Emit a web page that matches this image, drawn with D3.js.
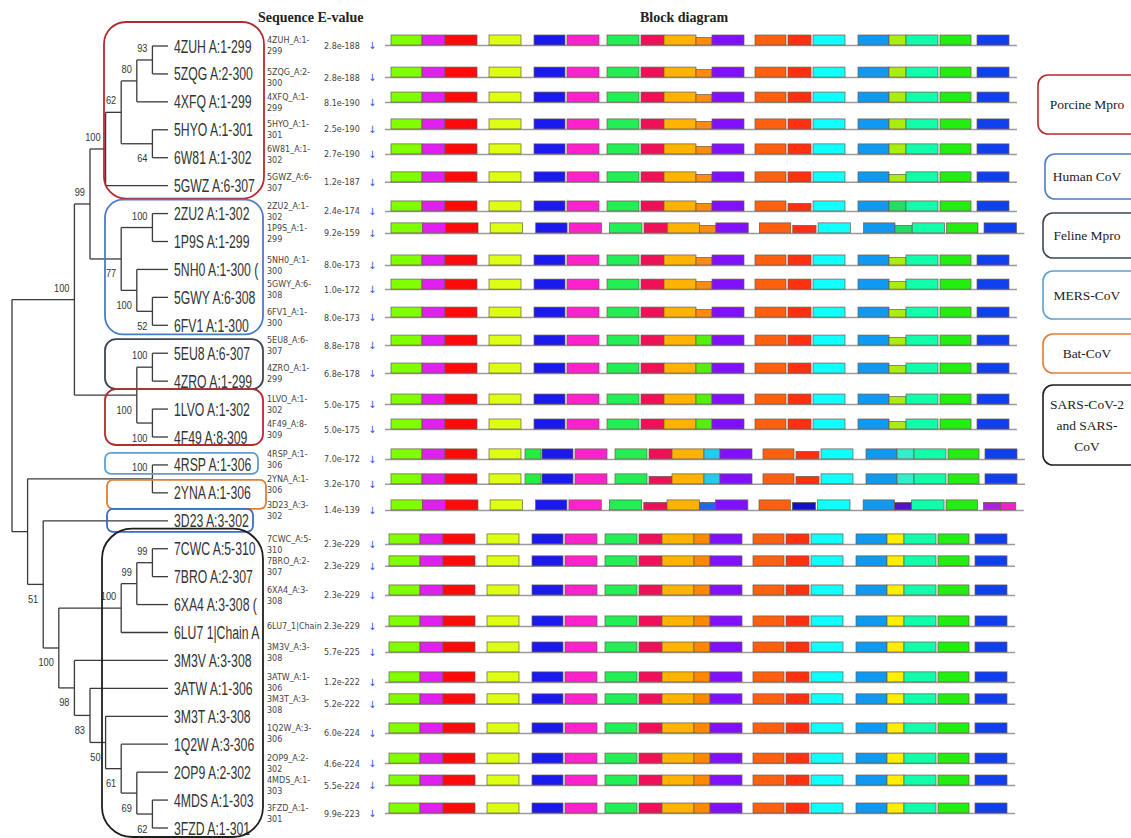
<!DOCTYPE html>
<html>
<head>
<meta charset="utf-8">
<script src="https://cdn.jsdelivr.net/npm/d3@7"></script>
<style>
  body { margin: 0; background: #fff; }
</style>
</head>
<body>
<script>
// --- tree topology (newick, leaves = PDB ids, "^"/"v" = bootstrap drawn above/below the node)
const porcineClade = "((((4ZUH,5ZQG)93^,4XFQ)80^,(5HYO,6W81)64v)62^,5GWZ)100^";
const humanClade = "((2ZU2,1P9S)100^,(5NH0,(5GWY,6FV1)52v)100v)77v";
const felineClade = "((5EU8,4ZRO)100^,(1LVO,4F49)100v)100v";
const sarsClade = "((((7CWC,7BRO)99^,6XA4)99^,6LU7)100^,(3M3V,(3ATW,(3M3T,(1Q2W,(2OP9,(4MDS,3FZD)62v)69v)61v)50v)83v)98v)100v";
const newick = "(((" + porcineClade + "," + humanClade + ")99^," + felineClade + ")100^,"
  + "((4RSP,2YNA)100^,(3D23," + sarsClade + ")51v))";

// --- one entry per sequence, top to bottom
const ids = ["4ZUH","5ZQG","4XFQ","5HYO","6W81","5GWZ","2ZU2","1P9S","5NH0","5GWY","6FV1",
  "5EU8","4ZRO","1LVO","4F49","4RSP","2YNA","3D23","7CWC","7BRO","6XA4","6LU7","3M3V",
  "3ATW","3M3T","1Q2W","2OP9","4MDS","3FZD"];
const treeLabels = ["4ZUH A:1-299","5ZQG A:2-300","4XFQ A:1-299","5HYO A:1-301","6W81 A:1-302",
  "5GWZ A:6-307","2ZU2 A:1-302","1P9S A:1-299","5NH0 A:1-300 (","5GWY A:6-308","6FV1 A:1-300",
  "5EU8 A:6-307","4ZRO A:1-299","1LVO A:1-302","4F49 A:8-309","4RSP A:1-306","2YNA A:1-306",
  "3D23 A:3-302","7CWC A:5-310","7BRO A:2-307","6XA4 A:3-308 (","6LU7 1|Chain A","3M3V A:3-308",
  "3ATW A:1-306","3M3T A:3-308","1Q2W A:3-306","2OP9 A:2-302","4MDS A:1-303","3FZD A:1-301"];
const seqTop = ["4ZUH_A:1-","5ZQG_A:2-","4XFQ_A:1-","5HYO_A:1-","6W81_A:1-","5GWZ_A:6-","2ZU2_A:1-",
  "1P9S_A:1-","5NH0_A:1-","5GWY_A:6-","6FV1_A:1-","5EU8_A:6-","4ZRO_A:1-","1LVO_A:1-","4F49_A:8-",
  "4RSP_A:1-","2YNA_A:1-","3D23_A:3-","7CWC_A:5-","7BRO_A:2-","6XA4_A:3-","6LU7_1|Chain","3M3V_A:3-",
  "3ATW_A:1-","3M3T_A:3-","1Q2W_A:3-","2OP9_A:2-","4MDS_A:1-","3FZD_A:1-"];
const seqBottom = ["299","300","299\n- - -","301","302","307","302","299","300","308","300","307","299",
  "302","309","306","306","302","310","307","308","","308\n- - -","306","308\n- - -","306","302","303","301"];
const evalues = ["2.8e-188","2.8e-188","8.1e-190","2.5e-190","2.7e-190","1.2e-187","2.4e-174","9.2e-159",
  "8.0e-173","1.0e-172","8.0e-173","8.8e-178","6.8e-178","5.0e-175","5.0e-175","7.0e-172","3.2e-170",
  "1.4e-139","2.3e-229","2.3e-229","2.3e-229","2.3e-229","5.7e-225","1.2e-222","5.2e-222","6.0e-224",
  "4.6e-224","5.5e-224","9.9e-223"];
// vertical slot of each block-diagram row (rows with extra text lines take more room)
const rowPos = [0,1.17,2.08,3.06,3.97,4.99,6.05,6.85,8.02,8.9,9.92,10.94,11.96,13.09,14,15.09,16,
  16.95,18.19,18.99,20.05,21.18,22.13,23.22,24.02,25.08,26.18,26.98,28];
const rowVariant = ["P","P","P","P","P","Q","H1","H2","Q","Q","Q","F","F","F","F","M","M2","D",
  "S","S","S","S","S","S","S","S","S","S","S"];

// --- conserved blocks (alignment position units)
const blockStart = [0,15.5,27,49,71.5,88,108,125,136.5,152.5,160.5,182,198.5,211,233.5,249,257.5,274.5,293];
const blockEnd   = [15.5,27,43,65,87,104,124,136.5,152.5,160.5,176.5,197.5,210,227,249,257.5,273.5,290,309];
const blockColor = ["#80ff00","#e020f0","#ff0a0a","#ddff11","#1a1aee","#ff22cc","#22ee55","#f0105a",
  "#ffb300","#ff8c10","#8010ff","#ff6010","#ff3010","#10ffff","#1099f0","#aaee11","#11ffaa","#22ee11","#1040ee"];
const variants = {
  P:  { short: [9] },
  Q:  { short: [9, 15] },
  H1: { short: [9, 12], color: { 15: "#22dd66" } },
  H2: { stretch: 1.012, short: [9, 12, 15], color: { 15: "#22dd66" } },
  F:  { short: [15], color: { 9: "#55ee11" } },
  M:  { shiftFrom: 4, shiftBy: 4, short: [12], color: { 9: "#22ccee", 15: "#33eecc" }, extra: [[67, 75, "#22ee44", 0]] },
  M2: { shiftFrom: 4, shiftBy: 4, short: [7, 12], color: { 9: "#22ccee", 15: "#33eecc" }, extra: [[67, 75, "#22ee44", 0]] },
  D:  { stretch: 1.011, short: [7, 9, 12, 15], color: { 9: "#2266ee", 12: "#1111cc", 15: "#5511cc" },
        drop: [18], extra: [[293, 301.5, "#aa22dd", 1], [301.5, 309, "#ee22cc", 1]] },
  S:  { shift: -1, color: { 9: "#ff8800", 15: "#ffee00" } }
};

// --- clade boxes & legend
const groupNames = ["Porcine Mpro", "Human CoV", "Feline Mpro", "MERS-CoV", "Bat-CoV", "SARS-CoV-2\nand SARS-\nCoV"];
const groupColors = ["#b52a2e", "#4d7cc6", "#3d4757", "#5b9fd6", "#e07d36", "#1e1e1e"];
const cladeBoxes = [
  { g: 0, from: "4ZUH", to: "5GWZ", x0: 104, x1: 264, top: 24, bot: 13, r: 22 },
  { g: 1, from: "2ZU2", to: "6FV1", x0: 105, x1: 263, top: 14, bot: 9, r: 18 },
  { g: 2, from: "5EU8", to: "4ZRO", x0: 105, x1: 263, top: 14, bot: 8, r: 11 },
  { g: 0, from: "1LVO", to: "4F49", x0: 105, x1: 263, top: 20, bot: 8, r: 11 },
  { g: 3, from: "4RSP", to: "4RSP", x0: 105, x1: 258, top: 12, bot: 9, r: 6 },
  { g: 4, from: "2YNA", to: "2YNA", x0: 107, x1: 266, top: 13, bot: 16, r: 6 },
  { g: 1, from: "3D23", to: "3D23", x0: 107, x1: 253, top: 12, bot: 11, r: 6, color: "#3e6cc0" },
  { g: 5, from: "7CWC", to: "3FZD", x0: 102, x1: 263, top: 20, bot: 9, r: 30 }
];
const legendBoxes = [[75, 134], [154, 199], [213, 258], [271, 319], [334, 373], [385, 465]];

// --- newick parser
function parseNewick(s) {
  let i = 0;
  function node() {
    const n = {};
    if (s[i] === "(") {
      n.children = [];
      i++;
      do { n.children.push(node()); } while (s[i++] === ",");
    }
    let name = "";
    while (i < s.length && !",)".includes(s[i])) name += s[i++];
    n.name = name;
    return n;
  }
  return node();
}

const W = 1131, H = 838;
const svg = d3.select("body").append("svg")
  .attr("width", W).attr("height", H)
  .style("font-family", "'Liberation Sans', Arial, sans-serif");

svg.append("rect").attr("width", W).attr("height", H).attr("fill", "#fff");

// ================= tree =================
const root = d3.hierarchy(parseNewick(newick));
const yLeaf = d3.scalePoint().domain(ids).range([46, 828]);
const xTree = d3.scaleLinear().domain([0, root.height]).range([168, 12]);
root.eachAfter(d => {
  d.px = xTree(d.height);
  d.py = d.children ? (d.children[0].py + d.children[d.children.length - 1].py) / 2 : yLeaf(d.data.name);
});

const treeG = svg.append("g");
treeG.selectAll("path.h")
  .data(root.descendants().filter(d => d.parent))
  .enter().append("path")
  .attr("d", d => `M${d.parent.px},${d.py}H${d.px}`)
  .attr("stroke", "#3a3a3a").attr("stroke-width", 1.3).attr("fill", "none");
treeG.selectAll("path.v")
  .data(root.descendants().filter(d => d.children))
  .enter().append("path")
  .attr("d", d => `M${d.px},${d.children[0].py}V${d.children[d.children.length - 1].py}`)
  .attr("stroke", "#3a3a3a").attr("stroke-width", 1.3).attr("fill", "none");

// bootstrap values
treeG.selectAll("text.boot")
  .data(root.descendants().filter(d => d.children && d.data.name))
  .enter().append("text")
  .attr("transform", d => {
    const below = d.data.name.endsWith("v");
    return `translate(${d.px - 5},${below ? d.py + 18.5 : d.py - 8}) scale(0.88,1)`;
  })
  .attr("text-anchor", "end")
  .attr("font-size", 10.5).attr("fill", "#333")
  .text(d => d.data.name.replace(/[\^v]/, ""));

// leaf labels, clipped where the boxes end
svg.append("clipPath").attr("id", "labclip")
  .append("rect").attr("x", 0).attr("y", 0).attr("width", 264).attr("height", H);
treeG.append("g").attr("clip-path", "url(#labclip)")
  .selectAll("text")
  .data(root.leaves())
  .enter().append("text")
  .attr("transform", d => `translate(174,${d.py + 6.5}) scale(0.68,1)`)
  .attr("font-size", 18).attr("fill", "#333")
  .text(d => treeLabels[ids.indexOf(d.data.name)]);

// clade boxes
svg.selectAll("rect.clade")
  .data(cladeBoxes)
  .enter().append("rect")
  .attr("x", d => d.x0)
  .attr("y", d => yLeaf(d.from) - d.top)
  .attr("width", d => d.x1 - d.x0)
  .attr("height", d => yLeaf(d.to) + d.bot - (yLeaf(d.from) - d.top))
  .attr("rx", d => d.r).attr("ry", d => d.r)
  .attr("fill", "none")
  .attr("stroke", d => d.color || groupColors[d.g])
  .attr("stroke-width", 1.8);

// ================= headers =================
svg.append("text").attr("x", 258).attr("y", 22)
  .attr("font-family", "'Liberation Serif', 'Times New Roman', serif")
  .attr("font-weight", "bold").attr("font-size", 14).attr("fill", "#222")
  .text("Sequence E-value");
svg.append("text").attr("x", 640).attr("y", 22)
  .attr("font-family", "'Liberation Serif', 'Times New Roman', serif")
  .attr("font-weight", "bold").attr("font-size", 14).attr("fill", "#222")
  .text("Block diagram");

// ================= sequence / e-value columns =================
const yRow = d3.scaleLinear().domain([0, 28]).range([45, 813]);
const rows = ids.map((id, i) => ({ id, i, y: yRow(rowPos[i]) }));

const seqG = svg.append("g").attr("font-family", "'DejaVu Sans', Verdana, sans-serif");
seqG.selectAll("text.top").data(rows).enter().append("text")
  .attr("x", 267).attr("y", d => seqBottom[d.i] ? d.y - 2 : d.y + 3)
  .attr("font-size", 8).attr("fill", "#444")
  .text(d => seqTop[d.i]);
seqG.selectAll("text.bot").data(rows.filter(d => seqBottom[d.i])).enter().append("text")
  .attr("x", 267).attr("y", d => d.y + 9)
  .attr("font-size", 8)
  .each(function(d) {
    const parts = seqBottom[d.i].split("\n");
    d3.select(this).selectAll("tspan").data(parts).enter().append("tspan")
      .attr("x", 267).attr("dy", (p, k) => k ? 6 : 0)
      .attr("font-size", (p, k) => k ? 5 : 8)
      .attr("fill", (p, k) => k ? "#bbb" : "#444")
      .text(p => p);
  });
seqG.selectAll("text.ev").data(rows).enter().append("text")
  .attr("x", 324).attr("y", d => d.y + 3.5)
  .attr("font-size", 8).attr("fill", "#444")
  .text(d => evalues[d.i]);
seqG.selectAll("text.arr").data(rows).enter().append("text")
  .attr("x", 368).attr("y", d => d.y + 4)
  .attr("font-size", 10).attr("fill", "#3355dd")
  .text("\u2193");

// ================= block diagram =================
const xBlock = d3.scaleLinear().domain([0, 309]).range([391, 1009]);

function rowBlocks(i) {
  const v = variants[rowVariant[i]];
  const st = v.stretch || 1, sh = v.shift || 0;
  const off = k => (v.shiftFrom != null && k >= v.shiftFrom ? v.shiftBy : 0);
  const out = [];
  blockStart.forEach((s, k) => {
    if (v.drop && v.drop.includes(k)) return;
    out.push({
      x0: xBlock(s * st + sh + off(k)),
      x1: xBlock(blockEnd[k] * st + sh + off(k)),
      color: (v.color && v.color[k]) || blockColor[k],
      short: (v.short || []).includes(k)
    });
  });
  (v.extra || []).forEach(e => out.push({
    x0: xBlock(e[0] * (e[0] > 200 ? st : 1) + sh),
    x1: xBlock(e[1] * (e[0] > 200 ? st : 1) + sh),
    color: e[2], short: !!e[3]
  }));
  const endPos = d3.max(out, b => b.x1);
  return { blocks: out, end: endPos + 8 };
}

const blockG = svg.append("g");
rows.forEach(r => {
  const rb = rowBlocks(r.i);
  const g = blockG.append("g");
  g.append("line")
    .attr("x1", xBlock(-3)).attr("x2", rb.end)
    .attr("y1", r.y + 0.5).attr("y2", r.y + 0.5)
    .attr("stroke", "#9a9a9a").attr("stroke-width", 1.5);
  g.selectAll("rect").data(rb.blocks).enter().append("rect")
    .attr("x", b => b.x0)
    .attr("width", b => b.x1 - b.x0)
    .attr("y", b => r.y - (b.short ? 7.5 : 10))
    .attr("height", b => b.short ? 7.5 : 10)
    .attr("fill", b => b.color)
    .attr("stroke", "#6b5a4a").attr("stroke-width", 0.7);
});

// ================= legend =================
const legG = svg.append("g").attr("font-family", "'Liberation Serif', 'Times New Roman', serif");
legendBoxes.forEach((b, k) => {
  const x0 = k === 0 ? 1038 : k === 1 ? 1045 : 1043;
  legG.append("rect")
    .attr("x", x0).attr("y", b[0])
    .attr("width", 1140 - x0).attr("height", b[1] - b[0])
    .attr("rx", 10).attr("ry", 10)
    .attr("fill", "#fff")
    .attr("stroke", groupColors[k]).attr("stroke-width", 1.6);
  const lines = groupNames[k].split("\n");
  const cy = (b[0] + b[1]) / 2;
  legG.append("text")
    .attr("x", 1087).attr("text-anchor", "middle")
    .attr("font-size", 13.5).attr("fill", "#222")
    .selectAll("tspan").data(lines).enter().append("tspan")
    .attr("x", 1087)
    .attr("y", (t, j) => cy + 4.5 + (j - (lines.length - 1) / 2) * 21)
    .text(t => t);
});
</script>
</body>
</html>
